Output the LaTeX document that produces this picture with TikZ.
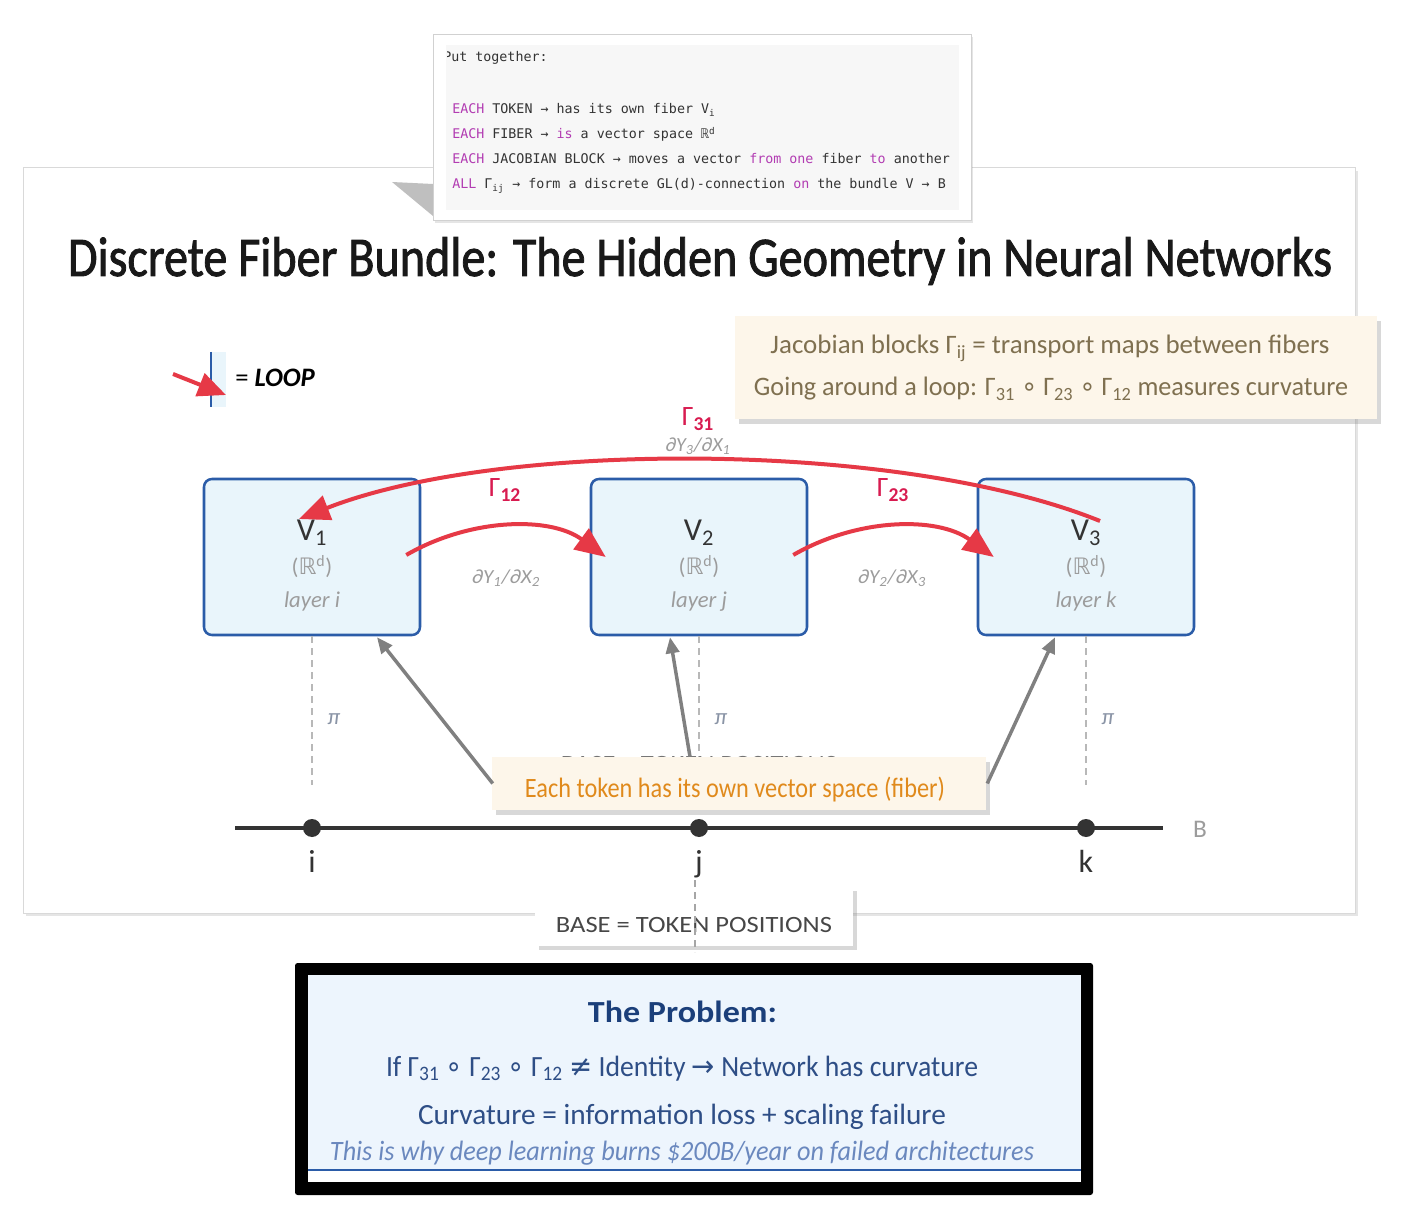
\documentclass[tikz,border=0pt]{standalone}
\usepackage{fontspec}
\usepackage{graphicx}
\setmainfont{Carlito}
\newfontfamily\titlefont[FakeBold=1.6]{Carlito}
\newfontfamily\symfont{DejaVu Sans}
\newfontfamily\codefont{DejaVu Sans Mono}
\usetikzlibrary{arrows.meta,shadows,calc}
\definecolor{arrred}{HTML}{E63946}
\definecolor{gamred}{HTML}{D81B50}
\definecolor{boxblue}{HTML}{2B5CA8}
\definecolor{boxfill}{HTML}{E9F5FB}
\definecolor{txtgray}{HTML}{9C9C9C}
\definecolor{pigray}{HTML}{8A94A6}
\definecolor{notefill}{HTML}{FDF6EA}
\definecolor{notetxt}{HTML}{7F7050}
\definecolor{orangetxt}{HTML}{E08A1C}
\definecolor{kw}{HTML}{B23CB2}
\definecolor{codetxt}{HTML}{333333}
\definecolor{codebg}{HTML}{F7F7F7}
\definecolor{probblue}{HTML}{1B3F7A}
\definecolor{probtxt}{HTML}{2E4E86}
\definecolor{probital}{HTML}{6A88BE}
\definecolor{probfill}{HTML}{EDF5FD}
\definecolor{darkc}{HTML}{333333}
\newcommand\fitw[2]{\resizebox{#1}{\height}{#2}}
\newcommand\mysub[1]{\textsubscript{#1}}
\newcommand\ring{{\symfont ∘}}
\begin{document}
\begin{tikzpicture}[x=0.75pt,y=-0.75pt,
  panel/.style={draw=black!15, fill=white, line width=0.75pt, inner sep=0pt,
    drop shadow={shadow xshift=2pt,shadow yshift=-2pt,opacity=0.2}},
  fiber/.style={draw=boxblue, fill=boxfill, line width=1.9pt, rounded corners=6pt,
    minimum width=162pt, minimum height=117pt, inner sep=0pt},
  redarr/.style={draw=arrred, line width=3pt, -{Triangle[length=23pt,width=19pt]}},
  grayarr/.style={draw=black!50, line width=2.6pt, -{Triangle[length=12pt,width=10pt]}},
  proj/.style={draw=black!28, line width=1.8pt, dash pattern=on 5pt off 4pt},
  note/.style={fill=notefill, inner sep=0pt,
    drop shadow={shadow xshift=3pt, shadow yshift=-4pt, opacity=0.3}},
  lbl/.style={inner sep=0pt, anchor=base},
  codeline/.style={anchor=base west, inner sep=0pt, text=codetxt,
    font=\codefont\fontsize{10}{12}\selectfont},
  gam/.style={lbl, text=gamred, font=\fontsize{21}{24}\selectfont},
  deriv/.style={lbl, text=txtgray, font=\itshape\fontsize{15}{18}\selectfont},
  vname/.style={lbl, text=darkc, font=\fontsize{24}{27}\selectfont},
  vsub/.style={lbl, text=txtgray, font=\fontsize{17}{20}\selectfont},
  vlay/.style={lbl, text=txtgray, font=\itshape\fontsize{17}{20}\selectfont},
  pil/.style={lbl, text=pigray, font=\itshape\fontsize{17}{20}\selectfont},
  basedot/.style={circle, fill=darkc, minimum size=13.5pt, inner sep=0pt},
  tokl/.style={lbl, text=darkc, font=\fontsize{24}{27}\selectfont}
]
\useasboundingbox (0,0) rectangle (1414,1226);
\fill[white] (0,0) rectangle (1414,1226);

% ---------- main panel ----------
\node[panel, minimum width=999pt, minimum height=558.75pt] (panel) at (689,540.5) {};

% ---------- code box ----------
\fill[black!45, opacity=0.55] (392,182) -- (433,184) -- (433,216) -- cycle;
\node[draw=black!18, fill=white, line width=0.75pt, inner sep=0pt,
  minimum width=403.5pt, minimum height=139.5pt,
  drop shadow={shadow xshift=1.5pt,shadow yshift=-1.5pt,opacity=0.2}] (code) at (702,128) {};
\node[fill=codebg, inner sep=0pt, minimum width=384.75pt, minimum height=123.75pt] (codebg) at (702.5,127.5) {};
\begin{scope}
  \clip (447,40) rectangle (965,215);
  \node[codeline] (c0) at (443,62) {Put together:};
\end{scope}
\node[codeline] (c1) at (452,114) {\textcolor{kw}{EACH} TOKEN → has its own fiber V\mysub{i}};
\node[codeline] (c2) at (452,139) {\textcolor{kw}{EACH} FIBER → \textcolor{kw}{is} a vector space ℝ\textsuperscript{d}};
\node[codeline] (c3) at (452,164) {\textcolor{kw}{EACH} JACOBIAN BLOCK → moves a vector \textcolor{kw}{from} \textcolor{kw}{one} fiber \textcolor{kw}{to} another};
\node[codeline] (c4) at (452,189) {\textcolor{kw}{ALL} Γ\mysub{ij} → form a discrete GL(d)-connection \textcolor{kw}{on} the bundle V → B};

% ---------- title ----------
\node[lbl, text=black!90] (title) at (700,276)
  {\fitw{948pt}{\titlefont\fontsize{42}{50}\selectfont Discrete Fiber Bundle: The Hidden Geometry in Neural Networks}};

% ---------- legend ----------
\fill[boxfill] (211,352) rectangle (226,407);
\draw[boxblue, line width=2pt] (211,352) -- (211,407);
\coordinate (lt) at (173,374);
\coordinate (lh) at (226,395);
\draw[redarr, -{Triangle[length=21pt,width=18pt]}] (lt) -- (lh);
\node[lbl, anchor=base west, text=black] (loop) at (235,387)
  {\fontsize{20}{24}\selectfont = {\bfseries\itshape LOOP}};

% ---------- top note ----------
\node[note, minimum width=481.5pt, minimum height=77.25pt] (note1) at (1056,367.5) {};
\node[lbl, text=notetxt] (n1a) at (1050,354)
  {\fitw{419.25pt}{\fontsize{20}{24}\selectfont Jacobian blocks Γ\mysub{ij} = transport maps between fibers}};
\node[lbl, text=notetxt] (n1b) at (1051,396)
  {\fitw{445.5pt}{\fontsize{20}{24}\selectfont Going around a loop: Γ\mysub{31} \ring{} Γ\mysub{23} \ring{} Γ\mysub{12} measures curvature}};

% ---------- fibers ----------
\node[fiber] (v1) at (312,557) {};
\node[fiber] (v2) at (699,557) {};
\node[fiber] (v3) at (1086,557) {};
\foreach \n/\x/\l in {1/312/i, 2/699/j, 3/1086/k}{
  \node[vname] (v\n n) at (\x,541) {V\mysub{\n}};
  \node[vsub] (v\n r) at (\x,575) {({\symfont ℝ}\textsuperscript{d})};
  \node[vlay] (v\n l) at (\x,608) {layer \l};
}

% ---------- projections ----------
\coordinate (p1) at (312,785);
\coordinate (p2) at (699,785);
\coordinate (p3) at (1086,785);
\draw[proj] (v1.south) -- (p1);
\draw[proj] (v2.south) -- (p2);
\draw[proj] (v3.south) -- (p3);
\node[pil] (pi1) at (334,724) {π};
\node[pil] (pi2) at (721,724) {π};
\node[pil] (pi3) at (1108,724) {π};

% ---------- base line ----------
\coordinate (bl) at (235,828);
\coordinate (br) at (1163,828);
\draw[darkc, line width=3pt] (bl) -- (br);
\node[basedot] (bi) at (312,828) {};
\node[basedot] (bj) at (699,828) {};
\node[basedot] (bk) at (1086,828) {};
\node[tokl] (li) at (312,872) {i};
\node[tokl] (lj) at (699,872) {j};
\node[tokl] (lk) at (1086,872) {k};
\node[lbl, text=txtgray, font=\fontsize{19}{22}\selectfont] (lB) at (1200,837) {B};

% faint text hidden behind note
\node[lbl, text=black!55] (hid) at (699,771)
  {\fitw{207pt}{\fontsize{17.5}{20}\selectfont BASE = TOKEN POSITIONS}};

% ---------- bottom note ----------
\node[note, minimum width=370.5pt, minimum height=39.75pt] (note2) at (739,783.5) {};
\node[lbl, text=orangetxt] (n2) at (735,797)
  {\fitw{315pt}{\fontsize{21}{24}\selectfont Each token has its own vector space (fiber)}};
\coordinate (g1s) at ($(note2.west)+(1,0)$);
\coordinate (g2s) at ($(note2.north)+(-49,0)$);
\coordinate (g3s) at ($(note2.east)+(1,0)$);
\draw[grayarr] (g1s) -- ($(v1.south)+(65,1)$);
\draw[grayarr] (g2s) -- ($(v2.south)+(-29,1)$);
\draw[grayarr] (g3s) -- ($(v3.south)+(-31,1)$);

% ---------- red transport arrows ----------
\coordinate (a12s) at ($(v1.east)+(-15,-2)$);
\coordinate (a12e) at ($(v2.west)+(16,0)$);
\coordinate (a23s) at ($(v2.east)+(-15,-2)$);
\coordinate (a23e) at ($(v3.west)+(17,0)$);
\coordinate (a31s) at ($(v3.center)+(14,-36)$);
\coordinate (a31e) at ($(v1.center)+(-13,-38)$);
\draw[redarr] (a12s) .. controls (470,518) and (550,516) .. (a12e);
\draw[redarr] (a23s) .. controls (857,518) and (937,516) .. (a23e);
\draw[redarr] (a31s) .. controls (900,440) and (500,440) .. (a31e);
\node[gam] (g12) at (505,497) {Γ\mysub{\bfseries 12}};
\node[gam] (g23) at (893,497) {Γ\mysub{\bfseries 23}};
\node[gam] (g31) at (698,426) {Γ\mysub{\bfseries 31}};
\node[deriv] (d31) at (698,452) {\fitw{48.75pt}{∂Y\mysub{3}/∂X\mysub{1}}};
\node[deriv] (d12) at (506,584) {\fitw{51pt}{∂Y\mysub{1}/∂X\mysub{2}}};
\node[deriv] (d23) at (892,584) {\fitw{51pt}{∂Y\mysub{2}/∂X\mysub{3}}};

% ---------- base caption box ----------
\node[fill=white, inner sep=0pt, minimum width=238.5pt, minimum height=44.25pt,
  drop shadow={shadow xshift=3pt, shadow yshift=-3pt, opacity=0.3}] (basebox) at (694,916.5) {};
\node[lbl, text=black!72] (basetxt) at (694,932)
  {\fitw{207pt}{\fontsize{17.5}{20}\selectfont BASE = TOKEN POSITIONS}};
\coordinate (jd1) at (695,880);
\coordinate (jd2) at (695,952);
\draw[proj, draw=black!35, line width=1.5pt] (jd1) -- (jd2);

% ---------- problem box ----------
\node[fill=black, inner sep=0pt, minimum width=598.5pt, minimum height=174pt,
  rounded corners=2pt] (prob) at (694,1079) {};
\fill[white] (308,975) rectangle (1081,1182);
\fill[probfill] (308,975) rectangle (1081,1170);
\draw[boxblue, line width=2.2pt] (308,1170) -- (1081,1170);
\node[lbl, text=probblue] (pt) at (682.5,1022)
  {\fitw{141.75pt}{\bfseries\fontsize{23}{26}\selectfont The Problem:}};
\node[lbl, text=probtxt] (pl1) at (682,1076)
  {\fitw{444pt}{\fontsize{22}{26}\selectfont If Γ\mysub{31} \ring{} Γ\mysub{23} \ring{} Γ\mysub{12} {\symfont ≠} Identity {\symfont →} Network has curvature}};
\node[lbl, text=probtxt] (pl2) at (682,1124)
  {\fitw{396pt}{\fontsize{22}{26}\selectfont Curvature = information loss + scaling failure}};
\node[lbl, text=probital] (pl3) at (682,1160)
  {\fitw{528pt}{\itshape\fontsize{21}{24}\selectfont This is why deep learning burns \$200B/year on failed architectures}};
\end{tikzpicture}
\end{document}
